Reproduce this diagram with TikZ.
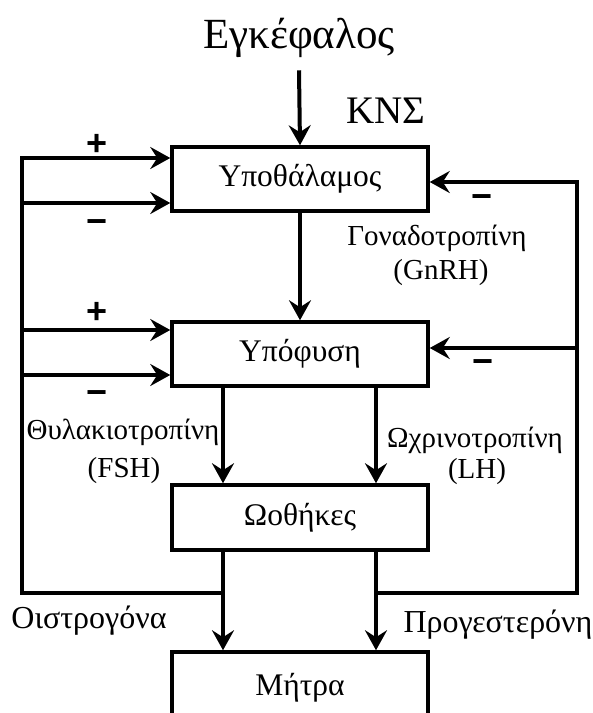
\documentclass[tikz,border=0pt]{standalone}
\usepackage{fontspec}
\setmainfont{Liberation Serif}
\newfontfamily\signfont{Liberation Sans}
\usetikzlibrary{arrows.meta}

\tikzset{
  organ/.style={draw, line width=3.5pt, minimum width=256pt,
    minimum height=64pt, inner sep=0pt, font=\fontsize{31.5}{34}\selectfont},
  hormone/.style={font=\fontsize{29}{32}\selectfont},
  steroid/.style={font=\fontsize{32}{34}\selectfont},
  sign/.style={font=\signfont\bfseries\fontsize{36}{36}\selectfont},
  arr/.style={line width=4pt, -{Stealth[length=20pt,width=22pt,inset=7pt]}},
}

\begin{document}
\begin{tikzpicture}[x=1pt,y=-1pt]
  \useasboundingbox (0,0) rectangle (593,713);
  \node[font=\fontsize{43}{48}\selectfont] (brain) at (299,38) {Εγκέφαλος};
  \node[font=\fontsize{39}{40}\selectfont] (cns) at (386,111) {ΚΝΣ};
  \node[organ] (hyp) at (300,179) {Υποθάλαμος};
  \node[organ] (pit) at (300,354) {Υπόφυση};
  \node[organ, minimum height=65pt] (ova) at (300,517.5) {Ωοθήκες};
  \node[organ, minimum height=72pt] (ute) at (300,688) {Μήτρα};

  \coordinate (cl) at (223,0);
  \coordinate (cr) at (376,0);
  \coordinate (fl) at (223,593);
  \coordinate (fr) at (376,593);
  \coordinate (l1) at (22,158);
  \coordinate (l2) at (22,203);
  \coordinate (l3) at (22,330);
  \coordinate (l4) at (22,375);
  \coordinate (r1) at (577,182);
  \coordinate (r2) at (577,348);

  \draw[arr] ([yshift=-9pt]brain.south) -- (hyp.north);
  \draw[arr] (hyp) -- (pit);
  \draw[arr] (pit.south -| cl) -- (ova.north -| cl);
  \draw[arr] (pit.south -| cr) -- (ova.north -| cr);
  \draw[arr] (ova.south -| cl) -- (ute.north -| cl);
  \draw[arr] (ova.south -| cr) -- (ute.north -| cr);

  % feedback
  \draw[arr] (fl) -| (l1) -- (hyp.west |- l1);
  \draw[arr] (l2) -- (hyp.west |- l2);
  \draw[arr] (l3) -- (pit.west |- l3);
  \draw[arr] (l4) -- (pit.west |- l4);
  \draw[arr] (fr) -| (r1) -- (hyp.east |- r1);
  \draw[arr] (r2) -- (pit.east |- r2);

  \node[sign] (p1) at (97,145) {+};
  \node[sign] (m1) at (97,227) {−};
  \node[sign] (p2) at (97,313) {+};
  \node[sign] (m2) at (97,398) {−};
  \node[sign] (m3) at (482,202) {−};
  \node[sign] (m4) at (483,367) {−};

  \node[hormone] (gn) at (437,238) {Γοναδοτροπίνη};
  \node[hormone] (gnrh) at (441,273) {(GnRH)};
  \node[hormone] (fs) at (123,432) {Θυλακιοτροπίνη};
  \node[hormone] (fsh) at (124,471) {(FSH)};
  \node[hormone] (lu) at (475,440) {Ωχρινοτροπίνη};
  \node[hormone] (lh) at (477,472) {(LH)};
  \node[steroid] (oe) at (89,621) {Οιστρογόνα};
  \node[steroid] (pr) at (498,625) {Προγεστερόνη};
\end{tikzpicture}
\end{document}
